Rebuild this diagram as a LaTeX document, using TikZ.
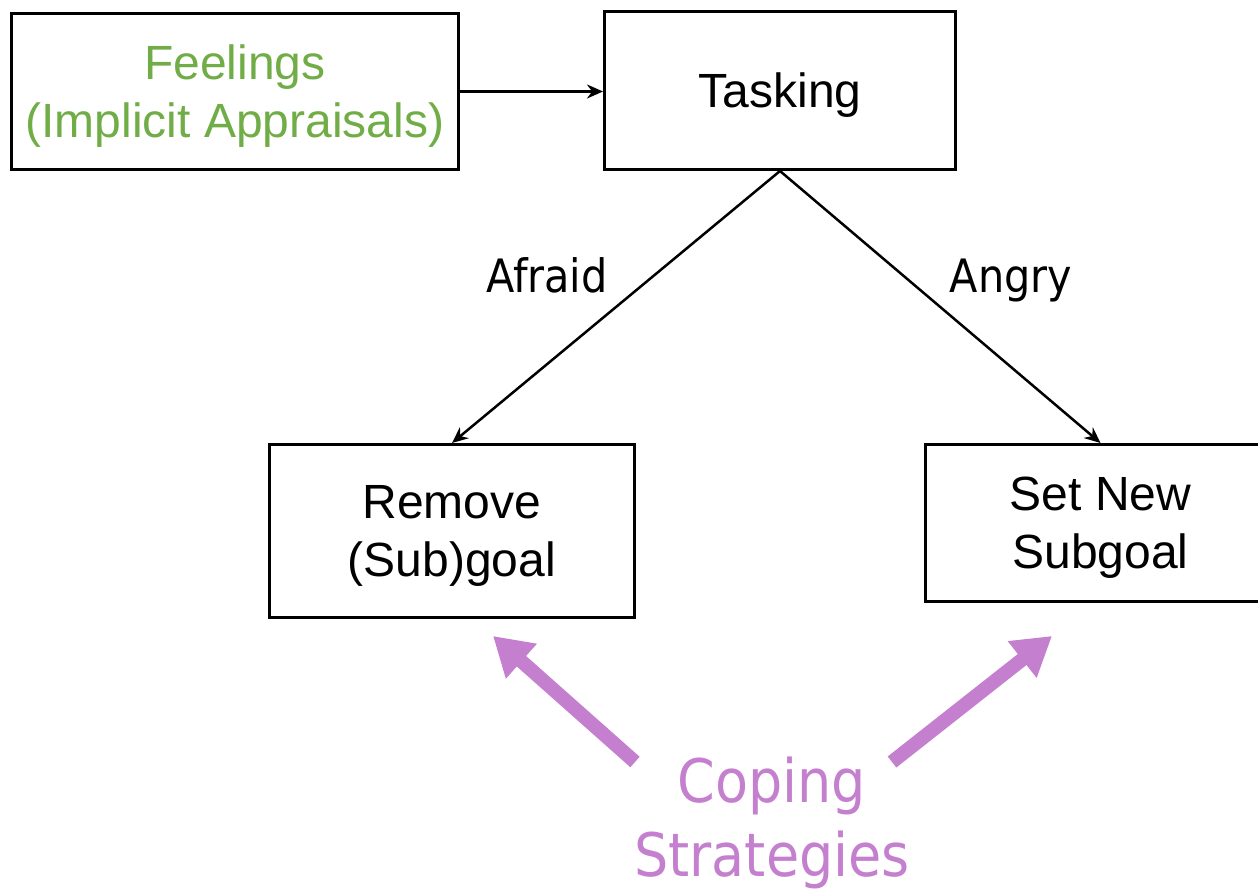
\documentclass[tikz,border=0pt]{standalone}
\usepackage{fontspec}
\setmainfont{Liberation Sans}
\newfontfamily\labelfont{DejaVu Sans Condensed}
\usetikzlibrary{arrows.meta}
\definecolor{feelgreen}{RGB}{112,173,71}
\definecolor{copepurple}{RGB}{196,128,206}
\begin{document}
\begin{tikzpicture}[x=1pt,y=-1pt,
  box/.style={draw=black,line width=3pt,fill=white,align=center,inner sep=0pt,
    text depth=0pt,font=\fontsize{48}{58}\selectfont},
  link/.style={line width=2.5pt,-{Stealth[length=16pt,width=14pt]}},
  tag/.style={font=\labelfont\fontsize{46}{56}\selectfont,inner sep=0pt,anchor=base},
  bigarrow/.style={copepurple,line width=14pt,-{Triangle[length=38pt,width=44pt]}}]
  \useasboundingbox (0,0) rectangle (1258,890);
  % boxes
  \node[box,minimum width=447pt,minimum height=156pt,text=feelgreen] (feel) at (235,91.5)
    {Feelings\\(Implicit Appraisals)};
  \node[box,minimum width=351pt,minimum height=158pt] (task) at (780,90.5) {Tasking};
  \node[box,minimum width=365pt,minimum height=173pt] (remove) at (452,531)
    {Remove\\(Sub)goal};
  \node[box,minimum width=351pt,minimum height=157pt] (setnew) at (1100.5,523)
    {Set New\\Subgoal};
  % connectors
  \draw[link] (feel.east) -- (task.west |- feel.east);
  \draw[link] (task.south) -- (remove.north);
  \draw[link] (task.south) -- (setnew.north);
  % emotion labels
  \node[tag] (afraid) at (547,293) {Afraid};
  \node[tag] (angry) at (1011,293) {Angry};
  % coping strategies
  \node[anchor=base,align=center,inner sep=0pt,text=copepurple,
    font=\labelfont\fontsize{60}{74}\selectfont] (coping) at (772,876) {Coping\\Strategies};
  \coordinate (lt) at (635,762);
  \coordinate (lh) at (493,636);
  \coordinate (rt) at (892,762);
  \coordinate (rh) at (1052,636);
  \draw[bigarrow] (lt) -- (lh);
  \draw[bigarrow] (rt) -- (rh);
\end{tikzpicture}
\end{document}
